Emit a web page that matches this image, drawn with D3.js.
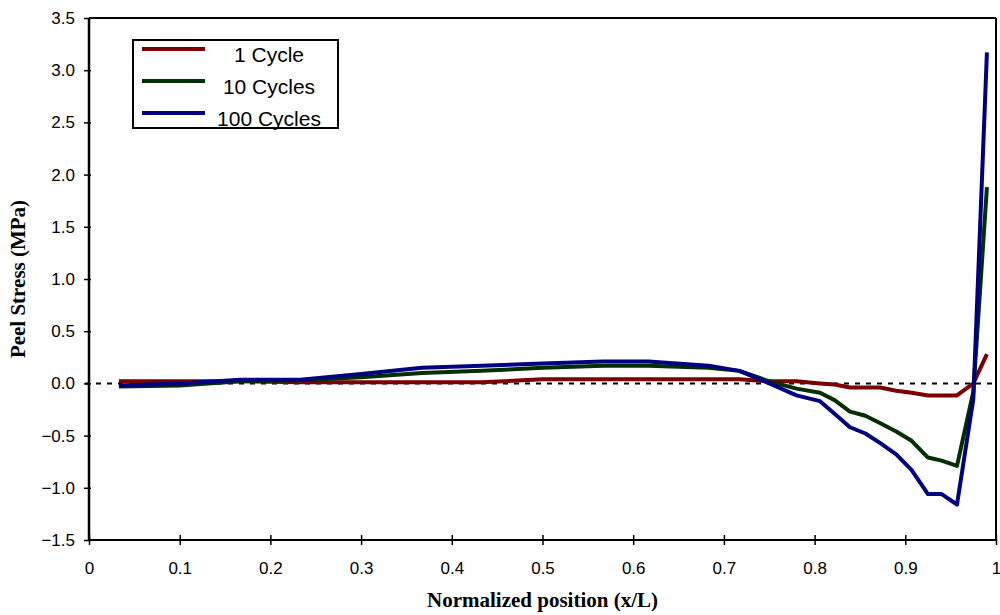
<!DOCTYPE html>
<html>
<head>
<meta charset="utf-8">
<script src="https://cdn.jsdelivr.net/npm/d3@7"></script>
<style>
  body { margin: 0; background: #fff; }
  svg { display: block; }
</style>
</head>
<body>
<svg></svg>
<script>
var WIDTH = 1000;
var HEIGHT = 615;

// normalized positions shared by all series
var positions = [0.033, 0.1, 0.167, 0.233, 0.3, 0.367, 0.433, 0.5, 0.567, 0.617, 0.683, 0.717,
    0.75, 0.78, 0.806, 0.822, 0.839, 0.856, 0.872, 0.89, 0.907, 0.925, 0.94, 0.957, 0.975, 0.99];

// peel stress (MPa) for each cycle count
var cycle1 = [0.02, 0.02, 0.02, 0.01, 0.01, 0.01, 0.01, 0.04, 0.04, 0.04, 0.04, 0.04,
    0.02, 0.02, 0.0, -0.01, -0.04, -0.04, -0.04, -0.07, -0.09, -0.115, -0.115, -0.115, 0.0, 0.28];
var cycle10 = [-0.03, -0.02, 0.02, 0.03, 0.06, 0.10, 0.12, 0.15, 0.17, 0.17, 0.15, 0.12,
    0.02, -0.05, -0.09, -0.16, -0.27, -0.31, -0.38, -0.46, -0.55, -0.71, -0.74, -0.79, -0.08, 1.88];
var cycle100 = [-0.02, 0.0, 0.035, 0.035, 0.09, 0.15, 0.17, 0.19, 0.21, 0.21, 0.17, 0.12,
    0.0, -0.115, -0.17, -0.29, -0.42, -0.48, -0.57, -0.68, -0.83, -1.06, -1.06, -1.16, -0.15, 3.17];

var seriesNames = ["1 Cycle", "10 Cycles", "100 Cycles"];
var seriesValues = [cycle1, cycle10, cycle100];
var seriesColors = ["#7a0000", "#003000", "#000080"];

var xTicks = [0, 0.1, 0.2, 0.3, 0.4, 0.5, 0.6, 0.7, 0.8, 0.9, 1];
var yTicks = [-1.5, -1.0, -0.5, 0.0, 0.5, 1.0, 1.5, 2.0, 2.5, 3.0, 3.5];

var svg = d3.select("svg")
    .attr("width", WIDTH)
    .attr("height", HEIGHT);

var x = d3.scaleLinear().domain([0, 1]).range([89, 996]);
var y = d3.scaleLinear().domain([-1.5, 3.5]).range([540, 18]);

// frame on top and right
svg.append("line")
    .attr("x1", x(0)).attr("x2", x(1)).attr("y1", y(3.5)).attr("y2", y(3.5))
    .attr("stroke", "#000").attr("stroke-width", 2);
svg.append("line")
    .attr("x1", x(1)).attr("x2", x(1)).attr("y1", y(3.5)).attr("y2", y(-1.5))
    .attr("stroke", "#000").attr("stroke-width", 2);

// zero line
svg.append("line")
    .attr("x1", x(0) - 4).attr("x2", x(1) - 4).attr("y1", y(0)).attr("y2", y(0))
    .attr("stroke", "#000").attr("stroke-width", 2)
    .attr("stroke-dasharray", "5,6");

//x axis
var xAxis = svg.append("g")
    .attr("transform", "translate(0," + y(-1.5) + ")")
    .call(d3.axisBottom(x).tickValues(xTicks).tickSize(5).tickPadding(0)
        .tickFormat(function(d) { return d3.format("")(+d.toFixed(1)); }));
xAxis.select(".domain").attr("stroke-width", 2);
xAxis.selectAll(".tick line").attr("y1", -5).attr("y2", 5).attr("stroke-width", 1.5);
xAxis.selectAll(".tick text")
    .attr("y", 34)
    .attr("dy", null)
    .attr("font-family", "Liberation Sans, Arial, sans-serif")
    .attr("font-size", 17)
    .attr("fill", "#000");

//y axis
var yAxis = svg.append("g")
    .attr("transform", "translate(" + x(0) + ",0)")
    .call(d3.axisLeft(y).tickValues(yTicks).tickSize(5).tickPadding(9)
        .tickFormat(d3.format(".1f")));
yAxis.select(".domain").attr("stroke-width", 2.5);
yAxis.selectAll(".tick line").attr("x1", -5).attr("x2", 2).attr("stroke-width", 1.5);
yAxis.selectAll(".tick text")
    .attr("font-family", "Liberation Sans, Arial, sans-serif")
    .attr("font-size", 17)
    .attr("fill", "#000");
svg.selectAll(".domain").attr("d", null);
xAxis.append("line").attr("x1", x(0)).attr("x2", x(1)).attr("stroke", "#000").attr("stroke-width", 2);
yAxis.append("line").attr("y1", y(3.5)).attr("y2", y(-1.5)).attr("stroke", "#000").attr("stroke-width", 2.5);

// series lines
var line = d3.line()
    .x(function(d) { return x(d[0]); })
    .y(function(d) { return y(d[1]); });

svg.append("g").selectAll("path")
    .data(seriesValues)
    .enter()
    .append("path")
    .attr("d", function(vals) {
        return line(positions.map(function(p, i) { return [p, vals[i]]; }));
    })
    .attr("fill", "none")
    .attr("stroke", function(d, i) { return seriesColors[i]; })
    .attr("stroke-width", 4)
    .attr("stroke-linejoin", "round");

// axis titles
svg.append("text")
    .attr("x", (x(0) + x(1)) / 2)
    .attr("y", 607)
    .attr("text-anchor", "middle")
    .attr("font-family", "Liberation Serif, Times New Roman, serif")
    .attr("font-weight", "bold")
    .attr("font-size", 21)
    .text("Normalized position (x/L)");

svg.append("text")
    .attr("transform", "translate(25," + y(1) + ") rotate(-90)")
    .attr("text-anchor", "middle")
    .attr("font-family", "Liberation Serif, Times New Roman, serif")
    .attr("font-weight", "bold")
    .attr("font-size", 21)
    .text("Peel Stress (MPa)");

// legend
var legend = svg.append("g");
legend.append("rect")
    .attr("x", 133).attr("y", 40).attr("width", 205).attr("height", 88)
    .attr("fill", "#fff").attr("stroke", "#000").attr("stroke-width", 2);

var legendRows = legend.selectAll("g.row")
    .data(seriesNames)
    .enter()
    .append("g")
    .attr("class", "row")
    .attr("transform", function(d, i) { return "translate(0," + (49 + i * 32) + ")"; });

legendRows.append("line")
    .attr("x1", 142).attr("x2", 205)
    .attr("stroke", function(d, i) { return seriesColors[i]; })
    .attr("stroke-width", 4);

legendRows.append("text")
    .attr("x", 269)
    .attr("y", 13)
    .attr("text-anchor", "middle")
    .attr("font-family", "Liberation Sans, Arial, sans-serif")
    .attr("font-size", 21)
    .text(function(d) { return d; });
</script>
</body>
</html>
